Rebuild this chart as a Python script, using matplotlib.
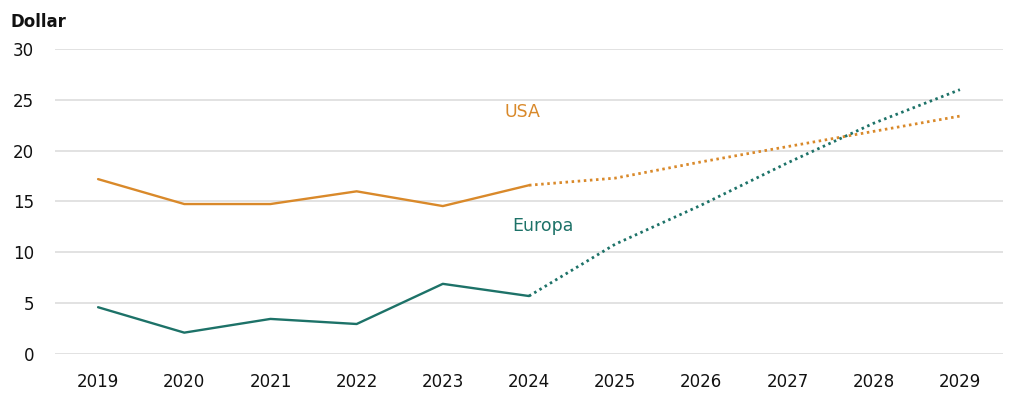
import matplotlib
matplotlib.use("Agg")
import matplotlib.pyplot as plt

years = [2019, 2020, 2021, 2022, 2023, 2024, 2025, 2026, 2027, 2028, 2029]
usa = [17.2, 14.75, 14.75, 16.0, 14.55, 16.6, 17.3, 18.9, 20.4, 21.9, 23.4]
europa = [4.6, 2.1, 3.45, 2.95, 6.9, 5.7, 10.8, 14.65, 18.8, 22.7, 26.0]
split_year = 2024
yticks = [0, 5, 10, 15, 20, 25, 30]

c_usa = "#D9892A"
c_eu = "#1D7268"
plt.rcParams['font.family'] = ['DejaVu Sans']

fig = plt.figure(figsize=(10.24, 4.09), dpi=100)
ax = fig.add_axes([0.0537, 0.1345, 0.9258, 0.7457])

k = years.index(split_year)
for vals, col in [(usa, c_usa), (europa, c_eu)]:
    ax.plot(years[:k+1], vals[:k+1], color=col, lw=1.7, solid_capstyle='round')
    ax.plot(years[k:], vals[k:], color=col, lw=2.0, linestyle=(0, (0.9, 1.3)), dash_capstyle='butt')

ax.set_xlim(2018.5, 2029.5)
ax.set_ylim(0, 30)
ax.set_yticks(yticks)
ax.set_xticks(years)
ax.grid(axis='y', color='#dddddd', lw=1.2)
ax.set_axisbelow(True)
for s in ax.spines.values():
    s.set_visible(False)
ax.tick_params(axis='both', length=0, labelsize=12, colors='#111111')
ax.tick_params(axis='y', pad=15)
ax.tick_params(axis='x', pad=14)
for lbl in ax.get_yticklabels():
    lbl.set_horizontalalignment('right')

ax.text(2023.92, 23.8, "USA", color=c_usa, fontsize=12.5, ha='center', va='center')
ax.text(2024.16, 12.6, "Europa", color=c_eu, fontsize=12.5, ha='center', va='center')
fig.text(10/1024, 1 - 22/409, "Dollar", fontsize=12, fontweight='bold', ha='left', va='center', color='#111111')

fig.savefig("out.png", dpi=100)
